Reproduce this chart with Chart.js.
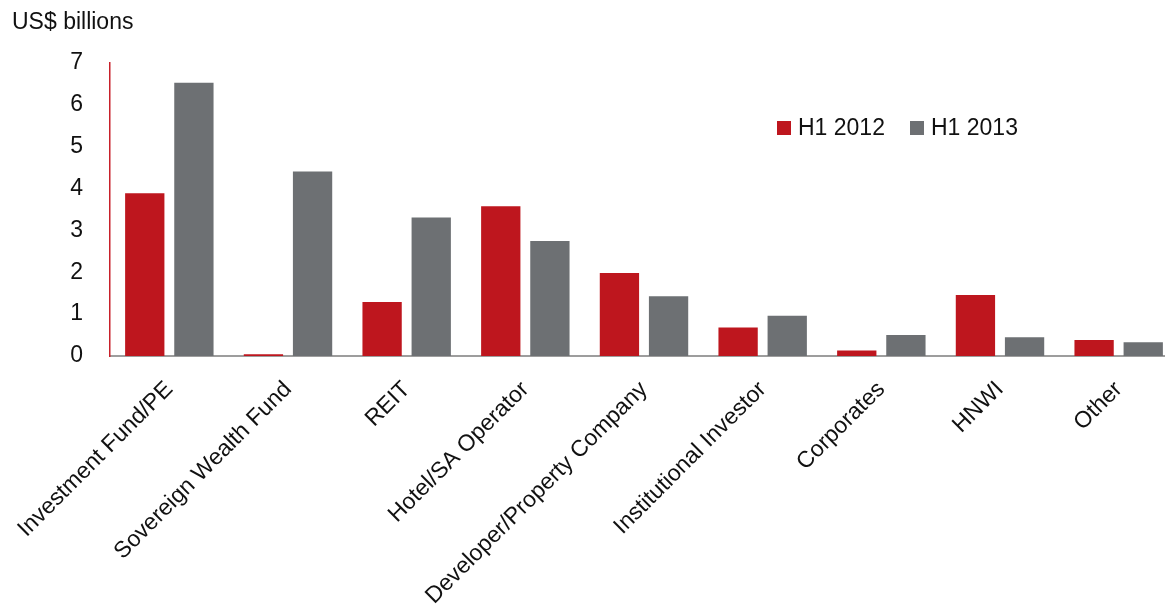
<!DOCTYPE html>
<html>
<head>
<meta charset="utf-8">
<script src="https://cdn.jsdelivr.net/npm/chart.js@4.4.1/dist/chart.umd.min.js"></script>
<style>
  html, body { margin: 0; padding: 0; background: #ffffff; overflow: hidden; }
  #wrap { position: relative; width: 1178px; height: 610px; }
  #unit { position: absolute; left: 12px; top: 8px; font: 23px "Liberation Sans", Arial, sans-serif; color: #111; }
  #legend { position: absolute; left: 777px; top: 114px; font: 23px "Liberation Sans", Arial, sans-serif; color: #111; display: flex; }
  #legend .item { display: flex; align-items: center; margin-right: 25px; }
  #legend .box { width: 14px; height: 14px; margin-right: 7px; }
</style>
</head>
<body>
<div id="wrap">
  <canvas id="investorChart" width="1178" height="610"></canvas>
  <div id="unit">US$ billions</div>
  <div id="legend"></div>
</div>
<script>
/* ============================================
   DATA
   ============================================ */
const categories = [
  'Investment Fund/PE', 'Sovereign Wealth Fund', 'REIT', 'Hotel/SA Operator',
  'Developer/Property Company', 'Institutional Investor', 'Corporates', 'HNWI', 'Other'
];
const seriesNames = ['H1 2012', 'H1 2013'];
const h1_2012 = [3.89, 0.04, 1.29, 3.58, 1.98, 0.68, 0.13, 1.46, 0.38];
const h1_2013 = [6.53, 4.41, 3.31, 2.75, 1.43, 0.96, 0.50, 0.45, 0.33];
const yTicks = [0, 1, 2, 3, 4, 5, 6, 7];

const colors = ['#be161e', '#6d7073'];
const fontFamily = '"Liberation Sans", Arial, sans-serif';

/* ============================================
   LEGEND (html)
   ============================================ */
const legendEl = document.getElementById('legend');
seriesNames.forEach((name, i) => {
  const item = document.createElement('div');
  item.className = 'item';
  item.innerHTML = '<span class="box" style="background:' + colors[i] + '"></span><span>' + name + '</span>';
  legendEl.appendChild(item);
});

/* ============================================
   CHART
   ============================================ */
const ctx = document.getElementById('investorChart').getContext('2d');

new Chart(ctx, {
  type: 'bar',
  data: {
    labels: categories,
    datasets: [
      { label: seriesNames[0], data: h1_2012, backgroundColor: colors[0] },
      { label: seriesNames[1], data: h1_2013, backgroundColor: colors[1] }
    ]
  },
  options: {
    responsive: false,
    animation: false,
    categoryPercentage: 0.828,
    barPercentage: 0.80,
    layout: { padding: { top: 63, left: 0, right: 0, bottom: 0 } },
    plugins: {
      legend: { display: false },
      tooltip: { enabled: false }
    },
    scales: {
      x: {
        grid: { display: false, drawTicks: false },
        border: { display: true, color: '#9d9d9d', width: 2 },
        ticks: {
          color: '#111',
          font: { family: fontFamily, size: 23 },
          minRotation: 45,
          maxRotation: 45,
          padding: 20,
          autoSkip: false
        },
        afterFit: function(scale) {
          scale.height = 254;
          scale.paddingLeft = 0;
          scale.paddingRight = 0;
        }
      },
      y: {
        min: 0,
        max: 7,
        afterBuildTicks: function(scale) {
          scale.ticks = yTicks.map(v => ({ value: v }));
        },
        grid: { display: false, drawTicks: false },
        border: { display: true, color: '#c8202a', width: 1.5 },
        ticks: {
          color: '#111',
          font: { family: fontFamily, size: 23 },
          padding: 27
        },
        afterFit: function(scale) {
          scale.width = 110;
          scale.paddingTop = 0;
          scale.paddingBottom = 0;
        }
      }
    }
  }
});
</script>
</body>
</html>
